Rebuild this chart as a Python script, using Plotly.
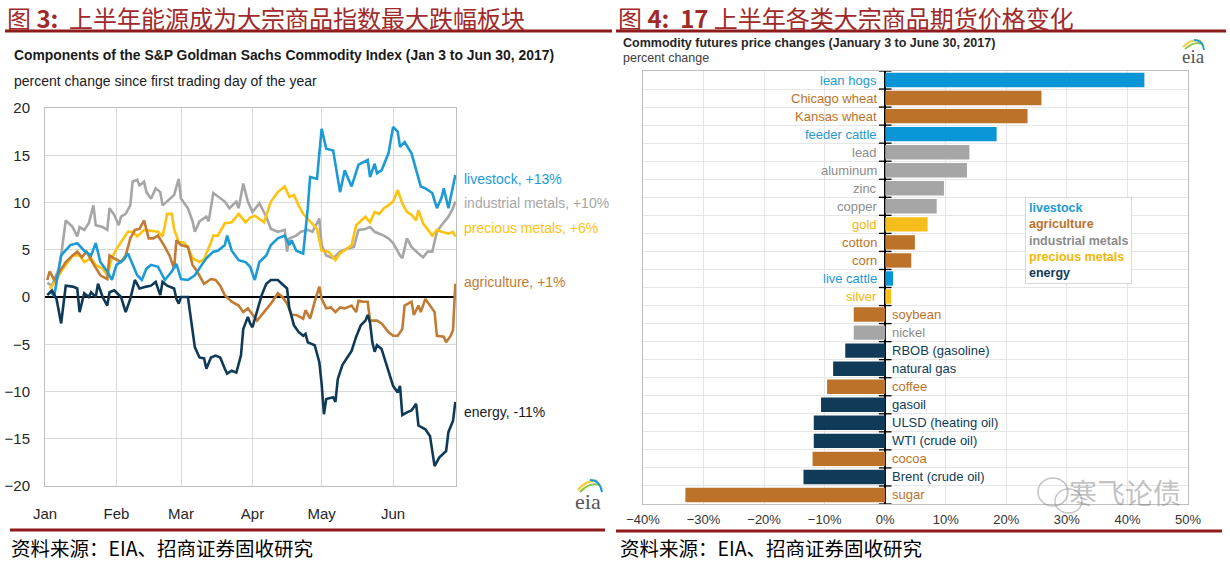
import pandas as pd
import plotly.graph_objects as go

# ---------------- Left chart data: days since 2017-01-01, percent change ----------------
livestock_day = [2,3,4,7,11,14,17,20,22,24,27,29,31,34,36,38,40,42,44,46,49,52,55,57,59,62,65,68,70,73,
                 75,78,79,81,84,87,89,91,93,96,98,101,104,106,107,109,112,114,115,118,120,122,125,128,130,
                 133,136,140,141,143,144,146,149,151,153,154,156,159,161,163,165,168,170,172,173,175,178]
livestock_pct = [0.5,0.4,0.1,4.4,5.5,5.7,4.9,4.4,5.7,3.7,2.7,1.8,3.4,3.9,4.6,3.4,2.3,1.8,3.0,3.4,
                 3.2,1.8,2.7,3.5,1.9,1.8,2.3,3.4,4.1,4.8,4.9,5.5,6.5,4.9,3.9,3.7,3.2,1.8,3.7,4.4,
                 5.5,6.2,6.5,5.5,6.0,4.9,4.6,9.4,12.7,12.5,17.8,15.7,15.5,11.1,13.4,11.7,14.0,14.5,12.7,14.1,
                 13.1,13.4,15.2,18.0,17.5,15.9,16.4,15.2,13.4,11.7,11.5,11.0,9.4,10.5,11.5,9.4,12.9]

industrial_day = [1,3,6,7,9,12,14,15,17,19,21,22,25,27,28,30,32,33,35,37,38,40,41,43,44,46,48,50,51,54,
                  56,58,59,62,64,65,67,70,71,73,76,78,80,83,84,86,88,90,93,96,98,101,104,105,106,109,111,
                  114,116,119,120,122,125,128,131,134,136,139,141,143,145,147,149,151,154,155,157,159,162,
                  164,166,168,170,172,175,177,178]
industrial_pct = [1.5,1.2,3.0,4.4,8.1,7.4,6.4,7.4,7.1,7.8,9.7,7.6,7.4,7.1,9.4,8.7,7.6,8.5,8.8,9.7,
                  12.2,12.4,11.8,12.2,11.1,10.4,11.5,11.1,9.7,10.4,10.8,12.5,10.4,9.4,8.0,6.9,8.0,8.5,8.0,11.0,
                  10.4,10.1,9.4,10.1,9.4,12.0,10.1,9.0,9.9,8.5,7.2,6.9,7.1,4.8,6.2,6.5,6.9,7.1,6.9,8.3,
                  5.5,4.4,4.1,4.8,5.1,5.3,7.1,7.2,7.4,6.9,6.7,6.5,6.2,5.7,4.4,4.1,6.2,5.3,4.6,4.2,
                  4.8,4.8,6.9,7.6,8.5,9.4,10.1]

precious_day = [2,5,7,9,12,15,17,20,22,25,27,29,31,34,36,38,40,43,46,49,51,53,55,56,58,60,62,64,67,69,
                72,73,75,78,81,84,87,89,91,95,98,101,104,106,108,110,112,116,118,120,123,126,128,131,133,
                135,137,139,141,143,145,147,149,151,153,155,157,159,161,162,164,166,168,170,172,175,177,178]
precious_pct = [0.9,1.8,2.7,3.4,4.4,4.4,3.7,4.1,3.4,3.0,2.3,4.1,5.1,6.2,6.9,6.9,6.4,7.1,7.0,6.9,
                6.4,8.8,8.8,7.2,5.8,5.8,5.3,4.1,3.7,4.0,5.8,6.5,6.5,7.8,7.9,8.8,7.9,8.4,8.6,7.9,
                10.1,11.1,11.7,10.6,10.8,9.7,8.8,7.8,7.2,4.9,4.8,3.9,4.6,5.1,5.5,7.6,8.1,8.5,7.9,9.0,
                8.8,9.4,9.7,10.1,11.3,9.9,9.0,8.7,8.1,9.2,7.8,7.1,6.5,7.1,6.9,6.7,6.9,6.4]

agriculture_day = [1,2,4,7,9,12,14,16,18,21,24,27,28,30,33,35,37,39,41,43,45,47,49,52,54,56,57,59,62,64,
                   66,69,72,74,76,78,81,84,86,88,90,92,95,98,101,103,105,107,109,112,113,115,117,119,120,
                   122,124,126,128,130,133,135,136,138,140,141,144,146,149,151,153,155,156,159,160,162,163,
                   165,167,169,170,173,174,176,177,178]
agriculture_pct = [1.8,2.7,1.8,3.0,3.7,4.4,4.8,4.2,4.8,3.5,2.3,1.9,4.4,4.1,3.7,4.4,6.2,7.1,7.2,8.1,
                   6.2,6.2,6.5,5.3,4.4,3.0,6.0,5.5,5.3,3.4,2.7,1.4,1.9,1.8,1.2,0.2,-0.5,-0.9,-1.6,-1.2,
                   -1.9,-2.5,-1.6,-0.7,0.4,0.0,-0.7,-1.9,-1.9,-2.3,-1.4,-2.3,-0.5,1.1,-0.2,-1.2,-1.1,-1.6,-1.1,-1.2,
                   -0.9,-1.6,-0.4,-0.5,-0.5,-2.5,-2.5,-2.8,-3.7,-4.1,-4.1,-3.4,-0.9,-0.5,-1.9,-0.9,-1.6,-0.2,-0.9,-1.6,
                   -4.1,-4.2,-4.8,-4.1,-3.5,1.4]

energy_day = [1,3,5,7,9,12,14,15,17,19,20,22,23,25,27,28,30,33,35,37,39,41,44,46,48,50,51,53,56,57,
              58,59,62,64,65,67,69,70,72,74,76,78,79,81,83,85,86,88,89,90,92,94,96,98,101,103,105,106,108,110,
              112,113,114,117,119,120,121,122,125,126,127,129,131,133,135,137,139,140,141,142,
              143,144,146,149,151,153,154,155,157,159,161,162,165,167,169,171,174,175,177,178]
energy_pct = [0.2,0.7,-0.2,-2.8,1.2,1.1,0.9,-1.6,0.4,0.0,0.5,0.0,1.4,0.0,-0.9,0.5,0.7,0.0,-1.6,-0.2,
              1.8,0.9,1.1,1.2,1.6,0.2,1.6,1.2,0.9,-0.2,-0.7,0.0,0.0,-3.4,-5.3,-6.4,-6.5,-7.6,-6.4,-6.2,
              -6.4,-7.6,-8.1,-7.8,-8.0,-6.2,-3.4,-2.1,-2.8,-3.2,-1.6,0.2,1.4,1.8,1.8,1.4,0.9,-1.2,-3.0,-3.7,
              -4.1,-3.9,-4.8,-5.1,-6.9,-9.2,-12.4,-10.8,-10.6,-11.1,-8.7,-7.2,-6.4,-5.7,-4.2,-3.0,-2.5,-1.9,-2.7,-4.8,
              -5.8,-5.1,-5.5,-8.0,-9.4,-10.1,-9.4,-12.5,-12.2,-12.0,-11.3,-13.6,-14.0,-14.7,-17.9,-17.0,-16.3,-14.3,-13.1,-11.1]

month_ticks = ["2017-01-01", "2017-02-01", "2017-03-01", "2017-04-01", "2017-05-01", "2017-06-01"]
month_labels = ["Jan", "Feb", "Mar", "Apr", "May", "Jun"]
end_labels = ["livestock, +13%", "industrial metals, +10%", "precious metals, +6%",
              "agriculture, +1%", "energy, -11%"]

# ---------------- Right chart data ----------------
commodities = ["lean hogs", "Chicago wheat", "Kansas wheat", "feeder cattle", "lead", "aluminum", "zinc",
               "copper", "gold", "cotton", "corn", "live cattle", "silver", "soybean", "nickel",
               "RBOB (gasoline)", "natural gas", "coffee", "gasoil", "ULSD (heating oil)", "WTI (crude oil)",
               "cocoa", "Brent (crude oil)", "sugar"]
price_change = [42.8, 25.8, 23.5, 18.4, 13.9, 13.5, 9.7, 8.5, 7.0, 4.9, 4.3, 1.3, 1.0, -5.2, -5.2,
                -6.6, -8.6, -9.6, -10.6, -11.8, -11.8, -12.0, -13.5, -33.0]
commodity_group = ["livestock", "agriculture", "agriculture", "livestock", "industrial metals",
                   "industrial metals", "industrial metals", "industrial metals", "precious metals",
                   "agriculture", "agriculture", "livestock", "precious metals", "agriculture",
                   "industrial metals", "energy", "energy", "agriculture", "energy", "energy", "energy",
                   "agriculture", "energy", "agriculture"]
group_order = ["livestock", "agriculture", "industrial metals", "precious metals", "energy"]

# ---------------- Styles ----------------
line_colors = {"livestock": "#1B9AD6", "industrial metals": "#A6A6A6", "precious metals": "#FFC20E",
               "agriculture": "#C27B32", "energy": "#0E3A57"}
bar_colors = {"livestock": "#0A96D6", "agriculture": "#BD7229", "industrial metals": "#A6A6A6",
              "precious metals": "#F6BE1B", "energy": "#0F3B58"}
label_colors = {"livestock": "#1B9AD6", "agriculture": "#BD7229", "industrial metals": "#8C8C8C",
                "precious metals": "#F2B705", "energy": "#0F3B58"}
SANS = "Liberation Sans, Arial, sans-serif"
ARIAL = "Liberation Sans, Arial, sans-serif"
CJK = "Noto Sans CJK SC, sans-serif"
RED = "#8E1B1B"
W, H = 1230, 564


def px(x):
    return x / W


def py(y):
    return 1 - y / H


base = pd.Timestamp("2017-01-01")


def to_dates(days):
    return [base + pd.Timedelta(days=d) for d in days]


fig = go.Figure()

left_series = [
    ("industrial metals", industrial_day, industrial_pct),
    ("precious metals", precious_day, precious_pct),
    ("agriculture", agriculture_day, agriculture_pct),
    ("livestock", livestock_day, livestock_pct),
    ("energy", energy_day, energy_pct),
]
for name, days, vals in left_series:
    fig.add_trace(go.Scatter(x=to_dates(days), y=vals, mode="lines", name=name,
                             line=dict(color=line_colors[name], width=2.6),
                             xaxis="x", yaxis="y", showlegend=False, hoverinfo="skip"))

# Right bar chart
positions = list(range(len(commodities)))
fig.add_trace(go.Bar(x=price_change, y=positions, orientation="h", width=0.8,
                     marker=dict(color=[bar_colors[g] for g in commodity_group], line=dict(width=0)),
                     xaxis="x2", yaxis="y2", showlegend=False, hoverinfo="skip"))
# tick marks on the zero axis at category boundaries
boundaries = [p - 0.5 for p in positions] + [len(commodities) - 0.5]
fig.add_trace(go.Scatter(x=[0] * len(boundaries), y=boundaries, mode="markers",
                         marker=dict(symbol="line-ew", size=9, line=dict(color="#000000", width=1.3)),
                         cliponaxis=False, xaxis="x2", yaxis="y2", showlegend=False, hoverinfo="skip"))

annotations = []
for pos, name, val, grp in zip(positions, commodities, price_change, commodity_group):
    annotations.append(dict(x=0, y=pos, xref="x2", yref="y2", text=name, showarrow=False,
                            xanchor="right" if val > 0 else "left", xshift=-6 if val > 0 else 5,
                            yanchor="middle", font=dict(family=ARIAL, size=13, color=label_colors[grp])))

legend_text = "<br>".join(f"<span style='color:{label_colors[g]}'>{g}</span>" for g in group_order)
annotations.append(dict(x=px(1025), y=py(197), xref="paper", yref="paper", xanchor="left", yanchor="top",
                        text=f"<b>{legend_text}</b>", align="left", showarrow=False,
                        bordercolor="#D9D9D9", borderwidth=1, borderpad=3, bgcolor="#FFFFFF",
                        font=dict(family=ARIAL, size=12.5)))


def txt(x, y, text, size, color, family, xanchor="left"):
    annotations.append(dict(x=px(x), y=py(y), xref="paper", yref="paper", text=text, showarrow=False,
                            xanchor=xanchor, yanchor="middle", font=dict(family=family, size=size, color=color)))


# Chinese headers
txt(5, 17, "图 <b>3:</b>  上半年能源成为大宗商品指数最大跌幅板块", 24, "#A02A2A", CJK)
txt(616, 17, "图 <b>4:</b>  <b>17</b> 上半年各类大宗商品期货价格变化", 24, "#A02A2A", CJK)
txt(9, 547, "资料来源：EIA、招商证券固收研究", 19.5, "#000000", CJK)
txt(618, 547, "资料来源：EIA、招商证券固收研究", 19.5, "#000000", CJK)

# Left chart titles
txt(12, 55, "<b>Components of the S&P Goldman Sachs Commodity Index (Jan 3 to Jun 30, 2017)</b>", 13.9,
    "#1A1A1A", SANS)
txt(12, 81, "percent change since first trading day of the year", 14, "#1A1A1A", SANS)

# End labels of left series
end_label_y = [179, 203, 228, 282, 412]
end_label_keys = ["livestock", "industrial metals", "precious metals", "agriculture", "energy"]
for lab, yy, key in zip(end_labels, end_label_y, end_label_keys):
    txt(462, yy, lab, 14, line_colors[key] if key != "energy" else "#1A1A1A", SANS)

# Right chart titles
txt(621, 43, "<b>Commodity futures price changes (January 3 to June 30, 2017)</b>", 12.5, "#262626", ARIAL)
txt(621, 58, "percent change", 12.5, "#404040", ARIAL)

# eia logos
txt(588, 501, "eia", 22, "#555555", "Liberation Serif, serif", xanchor="center")
txt(1193, 56, "eia", 19, "#555555", "Liberation Serif, serif", xanchor="center")

# watermark
annotations.append(dict(x=px(1125), y=py(492), xref="paper", yref="paper", text="寒飞论债", showarrow=False,
                        xanchor="center", yanchor="middle",
                        font=dict(family=CJK, size=28, color="rgba(120,120,120,0.45)")))

shapes = [
    dict(type="line", xref="paper", yref="paper", x0=px(5), x1=px(612), y0=py(31), y1=py(31),
         line=dict(color=RED, width=3)),
    dict(type="line", xref="paper", yref="paper", x0=px(616), x1=px(1226), y0=py(31), y1=py(31),
         line=dict(color=RED, width=3)),
    dict(type="line", xref="paper", yref="paper", x0=px(10), x1=px(605), y0=py(530), y1=py(530),
         line=dict(color=RED, width=3)),
    dict(type="line", xref="paper", yref="paper", x0=px(616), x1=px(1222), y0=py(531), y1=py(531),
         line=dict(color=RED, width=3)),
]


def arc(x0, y0, cx, cy, x1, y1, color, width=2):
    return dict(type="path", xref="paper", yref="paper",
                path=f"M {px(x0)},{py(y0)} Q {px(cx)},{py(cy)} {px(x1)},{py(y1)}",
                line=dict(color=color, width=width))


shapes += [
    arc(578, 490, 587, 479, 598, 481, "#F4D03F", 2.5),
    arc(580, 492, 590, 482, 599, 485, "#8CC63F", 2),
    arc(590, 480, 600, 480, 602, 492, "#1B9AD6", 2),
    arc(1183, 47, 1192, 38, 1201, 41, "#F4D03F", 2.2),
    arc(1185, 49, 1194, 41, 1202, 44, "#8CC63F", 1.8),
    arc(1194, 40, 1203, 40, 1204, 50, "#1B9AD6", 1.8),
    dict(type="circle", xref="paper", yref="paper", x0=px(1038), x1=px(1068), y0=py(506), y1=py(478),
         line=dict(color="rgba(140,140,140,0.5)", width=1.5)),
    dict(type="circle", xref="paper", yref="paper", x0=px(1055), x1=px(1082), y0=py(513), y1=py(489),
         line=dict(color="rgba(140,140,140,0.5)", width=1.5)),
]

grid_left = "#D9D9D9"
fig.update_layout(
    width=W, height=H, margin=dict(l=0, r=0, t=0, b=0, autoexpand=False),
    paper_bgcolor="#FFFFFF", plot_bgcolor="#FFFFFF",
    annotations=annotations, shapes=shapes, bargap=0.2,
    xaxis=dict(domain=[px(45), px(456)], anchor="y", type="date", automargin=False,
               range=["2017-01-01", "2017-06-28 07:00"], tickvals=month_ticks, ticktext=month_labels,
               showgrid=True, gridcolor=grid_left, gridwidth=1, showline=True, linecolor="#BFBFBF",
               mirror=True, ticks="", ticklabelstandoff=14,
               tickfont=dict(family=SANS, size=15, color="#262626"), zeroline=False),
    yaxis=dict(domain=[py(486), py(108)], anchor="x", range=[-20, 20], dtick=5, automargin=False,
               showgrid=True, gridcolor=grid_left, showline=True, linecolor="#BFBFBF", mirror=True,
               zeroline=True, zerolinecolor="#000000", zerolinewidth=1.5, ticks="",
               ticklabelstandoff=11, tickfont=dict(family=SANS, size=15, color="#262626")),
    xaxis2=dict(domain=[px(643), px(1188)], anchor="y2", range=[-40, 50], dtick=10, ticksuffix="%",
                automargin=False,
                showgrid=True, gridcolor="#E6E6E6", showline=True, linecolor="#BFBFBF", mirror=True,
                zeroline=True, zerolinecolor="#000000", zerolinewidth=1.5, ticks="",
                ticklabelstandoff=3, tickfont=dict(family=ARIAL, size=13, color="#333333")),
    yaxis2=dict(domain=[py(504), py(71)], anchor="x2", range=[len(commodities) - 0.5, -0.5],
                automargin=False,
                tickvals=boundaries, showticklabels=False, showgrid=True, gridcolor="#E6E6E6",
                showline=True, linecolor="#BFBFBF", mirror=True, zeroline=False, ticks=""),
)

fig.write_html("out.html", config={"displayModeBar": False},
               post_script="document.body.style.margin='0px';")
